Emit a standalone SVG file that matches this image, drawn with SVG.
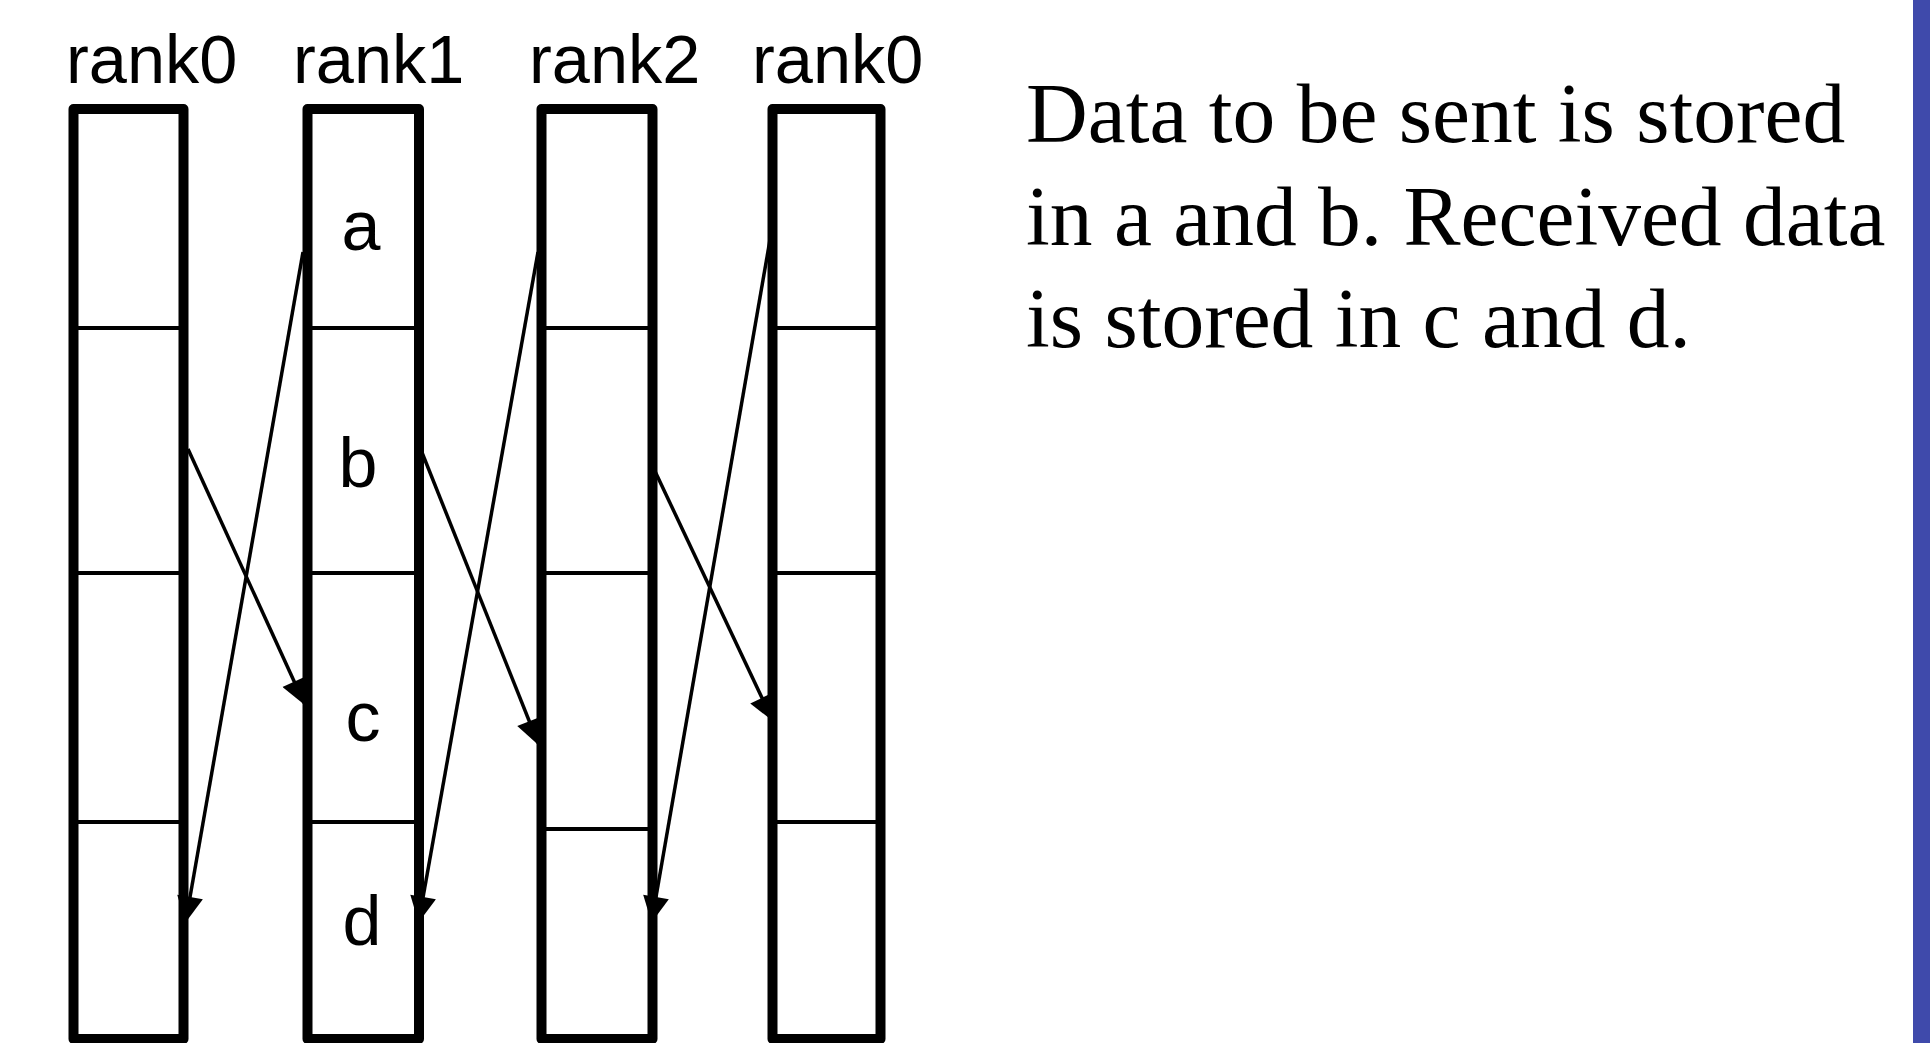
<svg xmlns="http://www.w3.org/2000/svg" width="1930" height="1043" viewBox="0 0 1930 1043">
  <style>
    .col { fill: none; stroke: #000; stroke-width: 10; stroke-linejoin: round; }
    .div { stroke: #000; stroke-width: 4; }
    .rank { font-family: "Liberation Sans", Arial, sans-serif; font-size: 68.5px; fill: #000; }
    .cell { font-family: "Liberation Sans", Arial, sans-serif; font-size: 70px; fill: #000; text-anchor: middle; }
    .note { font-family: "Liberation Serif", "Times New Roman", serif; font-size: 85.5px; fill: #000; }
    .edge { fill: none; stroke: #000; stroke-width: 3.5; marker-end: url(#head); }
  </style>
  <defs>
    <marker id="head" viewBox="0 0 10 10" refX="9" refY="5" markerWidth="30" markerHeight="26" markerUnits="userSpaceOnUse" orient="auto">
      <path d="M0,0 L10,5 L0,10 Z" fill="#000"/>
    </marker>
  </defs>

  <rect x="0" y="0" width="1930" height="1043" fill="#fff"/>
  <!-- side band -->
  <rect x="1913" y="0" width="17" height="1043" fill="#3f4aab"/>

  <!-- rank labels -->
  <text class="rank" x="66" y="83">rank0</text>
  <text class="rank" x="293" y="83">rank1</text>
  <text class="rank" x="529" y="83">rank2</text>
  <text class="rank" x="752" y="83">rank0</text>

  <!-- buffers -->
  <g id="buf-rank0">
    <rect class="col" x="73.5" y="109" width="110" height="930"/>
    <line class="div" x1="78" y1="328" x2="179" y2="328"/>
    <line class="div" x1="78" y1="573" x2="179" y2="573"/>
    <line class="div" x1="78" y1="822" x2="179" y2="822"/>
  </g>
  <g id="buf-rank1">
    <rect class="col" x="307.5" y="109" width="111.5" height="930"/>
    <line class="div" x1="312" y1="328" x2="415" y2="328"/>
    <line class="div" x1="312" y1="573" x2="415" y2="573"/>
    <line class="div" x1="312" y1="822" x2="415" y2="822"/>
    <text class="cell" x="361" y="250">a</text>
    <text class="cell" x="358" y="487">b</text>
    <text class="cell" x="363" y="741">c</text>
    <text class="cell" x="362" y="945">d</text>
  </g>
  <g id="buf-rank2">
    <rect class="col" x="541.5" y="109" width="111" height="930"/>
    <line class="div" x1="546" y1="328" x2="648" y2="328"/>
    <line class="div" x1="546" y1="573" x2="648" y2="573"/>
    <line class="div" x1="546" y1="829" x2="648" y2="829"/>
  </g>
  <g id="buf-rank0b">
    <rect class="col" x="772.5" y="109" width="108" height="930"/>
    <line class="div" x1="777" y1="328" x2="876" y2="328"/>
    <line class="div" x1="777" y1="573" x2="876" y2="573"/>
    <line class="div" x1="777" y1="822" x2="876" y2="822"/>
  </g>

  <!-- transfers -->
  <g id="connectors">
    <line class="edge" x1="188" y1="449" x2="304" y2="703"/>
    <line class="edge" x1="421" y1="450" x2="538" y2="743"/>
    <line class="edge" x1="653" y1="467" x2="772" y2="719"/>
    <line class="edge" x1="303" y1="252" x2="186" y2="920"/>
    <line class="edge" x1="538" y1="252" x2="419" y2="920"/>
    <line class="edge" x1="771" y1="234" x2="652" y2="920"/>
  </g>

  <!-- description -->
  <g id="note">
    <text class="note" x="1026" y="142">Data to be sent is stored</text>
    <text class="note" x="1026" y="245">in a and b. Received data</text>
    <text class="note" x="1026" y="347">is stored in c and d.</text>
  </g>
</svg>
